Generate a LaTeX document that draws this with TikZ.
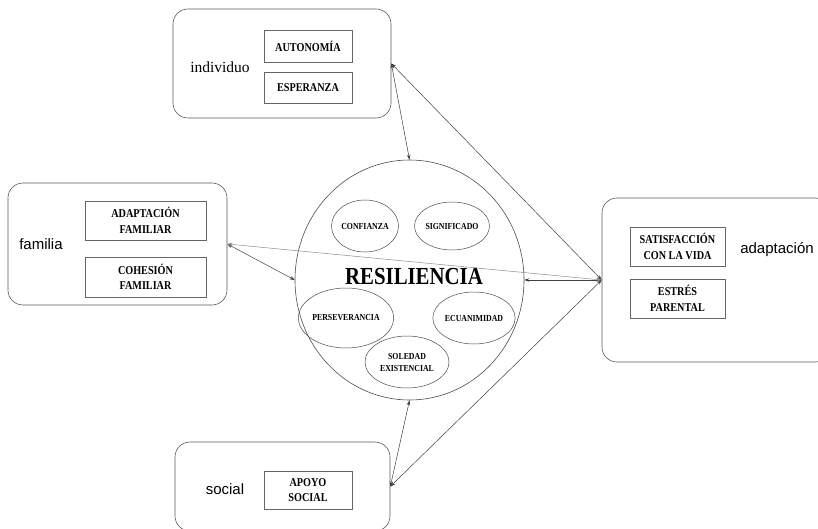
\documentclass[tikz,border=0pt]{standalone}
\usepackage{fontspec}
\setmainfont{Liberation Serif}
\newfontfamily\sansfont{Liberation Sans}
\newfontfamily\narrowfont[FakeStretch=0.85]{Liberation Serif}
\usetikzlibrary{positioning,arrows.meta,shapes.geometric}

\begin{document}
\begin{tikzpicture}[x=1pt,y=-1pt,
  >={Stealth[length=5pt,width=3.5pt]},
  area/.style={draw=black!65,line width=0.6pt,rounded corners=15pt,inner sep=0pt},
  factor/.style={draw=black!60,line width=0.5pt,inner sep=0pt,align=center,
                 font=\narrowfont\fontsize{12}{15.5}\selectfont\bfseries},
  trait/.style={ellipse,draw=black!70,line width=0.5pt,inner sep=0pt,align=center,
                font=\narrowfont\fontsize{9.2}{12}\selectfont\bfseries},
  arealabel/.style={font=\sansfont\fontsize{15}{18}\selectfont},
  link/.style={<->,draw=black!75,line width=0.5pt}]

\clip (0,0) rectangle (818,529);
\fill[white] (0,0) rectangle (818,529);

% ============ Centre: RESILIENCIA ============
\node[ellipse,draw=black!70,line width=0.6pt,minimum width=229,minimum height=240,
      inner sep=0pt] (res) at (409.5,280) {};
\node[font=\narrowfont\fontsize{24.5}{28}\selectfont\bfseries] (reslabel) at (414,277) {RESILIENCIA};
\node[trait,minimum width=64,minimum height=52] (conf) at (365,226) {CONFIANZA};
\node[trait,minimum width=66,minimum height=48] (sign) at (452,226) {SIGNIFICADO};
\node[trait,minimum width=76,minimum height=60] (pers) at (346,318) {PERSEVERANCIA};
\node[trait,minimum width=64,minimum height=52] (ecua) at (474,318) {ECUANIMIDAD};
\node[trait,minimum width=84,minimum height=52] (sole) at (407,362) {SOLEDAD\\EXISTENCIAL};

% ============ individuo ============
\node[area,minimum width=218,minimum height=109] (ind) at (282,63.5) {};
\node[font=\fontsize{15.5}{18}\selectfont] (indlabel) at (220,67) {individuo};
\node[factor,minimum width=88,minimum height=32] (auto) at (308,46) {AUTONOMÍA};
\node[factor,minimum width=88,minimum height=31] (espe) at (308,87.5) {ESPERANZA};

% ============ familia ============
\node[area,minimum width=219,minimum height=122] (fam) at (117.5,244) {};
\node[arealabel] (famlabel) at (41,244) {familia};
\node[factor,minimum width=121,minimum height=39] (adfa) at (145.5,220.5) {ADAPTACIÓN\\FAMILIAR};
\node[factor,minimum width=121,minimum height=40] (cofa) at (145.5,277) {COHESIÓN\\FAMILIAR};

% ============ adaptación ============
\node[area,minimum width=228,minimum height=164] (adp) at (716,280) {};
\node[arealabel] (adplabel) at (777,250) {adaptación};
\node[factor,minimum width=95,minimum height=39] (savi) at (677.5,246.5) {SATISFACCIÓN\\CON LA VIDA};
\node[factor,minimum width=95,minimum height=39] (espa) at (677.5,298.5) {ESTRÉS\\PARENTAL};

% ============ social ============
\node[area,minimum width=215,minimum height=89] (soc) at (282.5,486.5) {};
\node[arealabel] (soclabel) at (225,489) {social};
\node[factor,minimum width=88,minimum height=38] (apso) at (308,490) {APOYO\\SOCIAL};

% ============ connectors ============
\draw[link] (ind.east) -- (res.north);
\draw[link] (fam.east) -- (res.west);
\draw[link] (soc.east) -- (res.south);
\draw[link] (adp.west) -- (res.east);
\draw[link] (adp.west) -- (ind.east);
\draw[link,draw=black!45] (adp.west) -- (fam.east);
\draw[link] (adp.west) -- (soc.east);

\end{tikzpicture}
\end{document}
